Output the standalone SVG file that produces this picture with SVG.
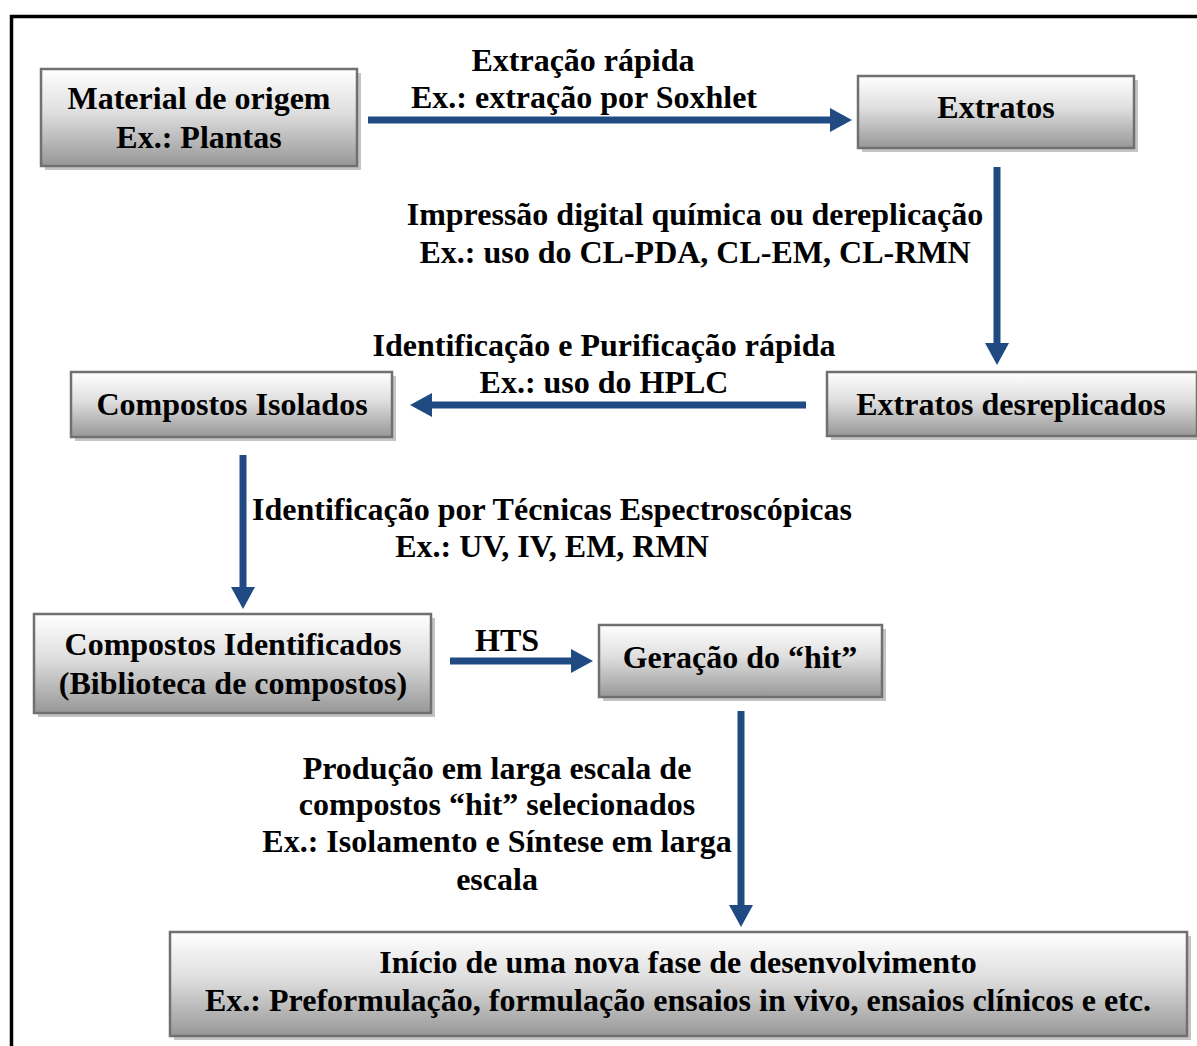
<svg xmlns="http://www.w3.org/2000/svg" width="1197" height="1046" viewBox="0 0 1197 1046">
<defs>
<linearGradient id="g" x1="0" y1="0" x2="0" y2="1">
<stop offset="0" stop-color="#ffffff"/>
<stop offset="0.45" stop-color="#dedede"/>
<stop offset="1" stop-color="#979797"/>
</linearGradient>
<marker id="ah" markerWidth="24" markerHeight="24" viewBox="0 0 22 24" refX="0" refY="12" orient="auto" markerUnits="userSpaceOnUse">
<path d="M0,0 L22,12 L0,24 Z" fill="#1f4b82"/>
</marker>
</defs>
<style>
.box{fill:url(#g);stroke:#707070;stroke-width:2.5}
.sh{fill:#c4c4c4}
.t{font-family:"Liberation Serif","Times New Roman",serif;font-weight:bold;font-size:32px;fill:#000;text-anchor:middle}
.c{stroke:#1f4b82;stroke-width:7;fill:none}
</style>
<rect width="1197" height="1046" fill="#fff"/>
<path d="M11.5,1046 V16.5 H1197" fill="none" stroke="#000" stroke-width="3.5"/>

<g id="connectors">
<line class="c" x1="368" y1="120" x2="830" y2="120" marker-end="url(#ah)"/>
<line class="c" x1="997" y1="167" x2="997" y2="343" marker-end="url(#ah)"/>
<line class="c" x1="806" y1="405" x2="432" y2="405" marker-end="url(#ah)"/>
<line class="c" x1="243" y1="455" x2="243" y2="587" marker-end="url(#ah)"/>
<line class="c" x1="450" y1="661" x2="571" y2="661" marker-end="url(#ah)"/>
<line class="c" x1="741" y1="711" x2="741" y2="905" marker-end="url(#ah)"/>
</g>

<g id="labels">
<text class="t" x="583" y="71">Extração rápida</text>
<text class="t" x="584" y="108">Ex.: extração por Soxhlet</text>
<text class="t" x="695" y="225">Impressão digital química ou dereplicação</text>
<text class="t" x="695" y="263">Ex.: uso do CL-PDA, CL-EM, CL-RMN</text>
<text class="t" x="604" y="356">Identificação e Purificação rápida</text>
<text class="t" x="604" y="393">Ex.: uso do HPLC</text>
<text class="t" x="552" y="520">Identificação por Técnicas Espectroscópicas</text>
<text class="t" x="552" y="557">Ex.: UV, IV, EM, RMN</text>
<text class="t" x="507" y="651">HTS</text>
<text class="t" x="497" y="779">Produção em larga escala de</text>
<text class="t" x="497" y="815">compostos “hit” selecionados</text>
<text class="t" x="497" y="852">Ex.: Isolamento e Síntese em larga</text>
<text class="t" x="497" y="890">escala</text>
</g>

<g id="n1">
<rect class="sh" x="45" y="73" width="316" height="97"/>
<rect class="box" x="41" y="69" width="316" height="97"/>
<text class="t" x="199" y="109">Material de origem</text>
<text class="t" x="199" y="148">Ex.: Plantas</text>
</g>
<g id="n2">
<rect class="sh" x="862" y="80" width="276" height="72"/>
<rect class="box" x="858" y="76" width="276" height="72"/>
<text class="t" x="996" y="118">Extratos</text>
</g>
<g id="n3">
<rect class="sh" x="831" y="376" width="370" height="64"/>
<rect class="box" x="827" y="372" width="370" height="64"/>
<text class="t" x="1011" y="415">Extratos desreplicados</text>
</g>
<g id="n4">
<rect class="sh" x="75" y="376" width="321" height="65"/>
<rect class="box" x="71" y="372" width="321" height="65"/>
<text class="t" x="232" y="415">Compostos Isolados</text>
</g>
<g id="n5">
<rect class="sh" x="38" y="618" width="397" height="99"/>
<rect class="box" x="34" y="614" width="397" height="99"/>
<text class="t" x="233" y="655">Compostos Identificados</text>
<text class="t" x="233" y="694">(Biblioteca de compostos)</text>
</g>
<g id="n6">
<rect class="sh" x="603" y="629" width="283" height="72"/>
<rect class="box" x="599" y="625" width="283" height="72"/>
<text class="t" x="740" y="668">Geração do “hit”</text>
</g>
<g id="n7">
<rect class="sh" x="174" y="936" width="1017" height="104"/>
<rect class="box" x="170" y="932" width="1017" height="104"/>
<text class="t" x="678" y="973">Início de uma nova fase de desenvolvimento</text>
<text class="t" x="678" y="1011">Ex.: Preformulação, formulação ensaios in vivo, ensaios clínicos e etc.</text>
</g>
</svg>
